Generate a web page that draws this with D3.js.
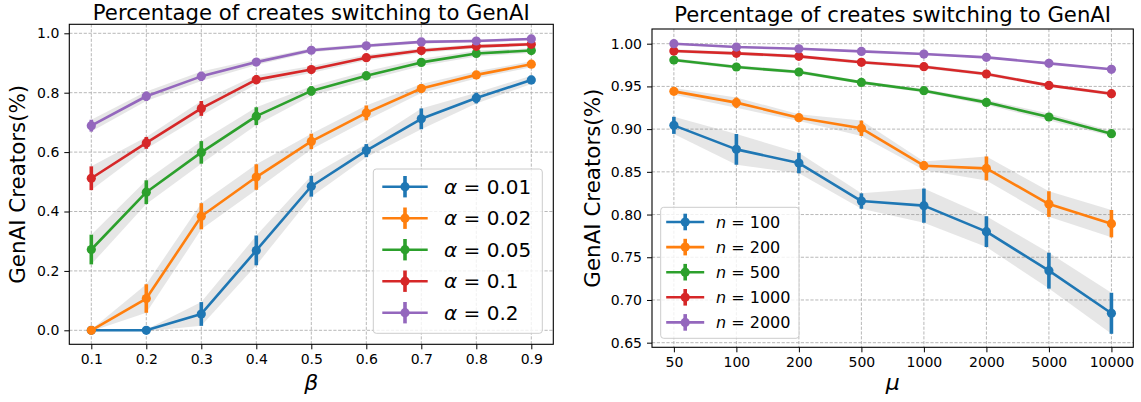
<!DOCTYPE html>
<html><head><meta charset="utf-8">
<script src="https://cdn.jsdelivr.net/npm/d3@7"></script>
<style>
html,body{margin:0;padding:0;background:#fff;}
svg{display:block;font-family:"DejaVu Sans",sans-serif;}
</style></head>
<body>
<svg id="chart" width="1141" height="402"></svg>
<script>
// ---------- data ----------
const colors = ["#1f77b4","#ff7f0e","#2ca02c","#d62728","#9467bd"];

// left panel
const betaValues = [0.1,0.2,0.3,0.4,0.5,0.6,0.7,0.8,0.9];
const betaTickLabels = ["0.1","0.2","0.3","0.4","0.5","0.6","0.7","0.8","0.9"];
const leftYTicks = [0.0,0.2,0.4,0.6,0.8,1.0];
const alphaLabels = ["0.01","0.02","0.05","0.1","0.2"];
const alpha001 = [0.000,0.000,0.055,0.269,0.485,0.605,0.712,0.782,0.843];
const alpha001Err = [0.003,0.003,0.040,0.050,0.035,0.022,0.035,0.018,0.014];
const alpha002 = [0.000,0.107,0.384,0.516,0.636,0.732,0.814,0.860,0.896];
const alpha002Err = [0.003,0.048,0.044,0.043,0.026,0.025,0.015,0.012,0.010];
const alpha005 = [0.272,0.465,0.599,0.721,0.806,0.857,0.902,0.932,0.942];
const alpha005Err = [0.050,0.040,0.038,0.030,0.016,0.015,0.012,0.010,0.008];
const alpha01 = [0.512,0.631,0.747,0.844,0.878,0.918,0.942,0.956,0.963];
const alpha01Err = [0.040,0.020,0.025,0.015,0.012,0.010,0.008,0.007,0.006];
const alpha02 = [0.689,0.788,0.855,0.903,0.943,0.958,0.971,0.974,0.981];
const alpha02Err = [0.020,0.016,0.016,0.010,0.007,0.006,0.005,0.005,0.004];

// right panel
const muLabels = ["50","100","200","500","1000","2000","5000","10000"];
const rightYTicks = [0.65,0.70,0.75,0.80,0.85,0.90,0.95,1.00];
const nLabels = ["100","200","500","1000","2000"];
const n100 = [0.9044,0.8763,0.8603,0.8158,0.8104,0.7800,0.7343,0.6844];
const n100Err = [0.010,0.018,0.012,0.009,0.020,0.018,0.021,0.024];
const n200 = [0.9442,0.9310,0.9134,0.9010,0.8572,0.8540,0.8123,0.7893];
const n200Err = [0.004,0.006,0.004,0.009,0.005,0.014,0.015,0.016];
const n500 = [0.9809,0.9727,0.9668,0.9547,0.9450,0.9313,0.9142,0.8947];
const n500Err = [0.002,0.002,0.002,0.002,0.002,0.003,0.004,0.003];
const n1000 = [0.9914,0.9887,0.9852,0.9782,0.9731,0.9645,0.9512,0.9415];
const n1000Err = [0.002,0.002,0.002,0.002,0.002,0.002,0.002,0.002];
const n2000 = [1.0000,0.9961,0.9941,0.9910,0.9879,0.9840,0.9770,0.9700];
const n2000Err = [0.001,0.001,0.001,0.001,0.001,0.001,0.001,0.001];

const title = "Percentage of creates switching to GenAI";
const yLabel = "GenAI Creators(%)";

// ---------- drawing ----------
const svg = d3.select("#chart");

function panel(opts){
  const {x0,x1,y0,y1,xScale,yScale,xTicks,xTickFmt,yTicks,yTickFmt,series,xs,xLabel,legend,titleY,yLabelX} = opts;
  const g = svg.append("g");
  // grid
  const grid = g.append("g").attr("stroke","#b0b0b0").attr("stroke-width",0.9).attr("stroke-dasharray","3.2,1.6");
  xTicks.forEach(t=>grid.append("line").attr("x1",xScale(t)).attr("x2",xScale(t)).attr("y1",y0).attr("y2",y1));
  yTicks.forEach(t=>grid.append("line").attr("x1",x0).attr("x2",x1).attr("y1",yScale(t)).attr("y2",yScale(t)));
  // bands
  const area = d3.area().x((d,i)=>xScale(xs[i])).y0(d=>yScale(d.v-d.e)).y1(d=>yScale(d.v+d.e));
  series.forEach(s=>{
    const data = s.v.map((v,i)=>({v,e:s.e[i]}));
    g.append("path").attr("d",area(data)).attr("fill","#808080").attr("fill-opacity",0.2).attr("stroke","none");
  });
  // lines, errorbars, markers
  const line = d3.line().x((d,i)=>xScale(xs[i])).y(d=>yScale(d.v));
  series.forEach((s,k)=>{
    const data = s.v.map((v,i)=>({v,e:s.e[i]}));
    const sg = g.append("g");
    sg.append("path").attr("d",line(data)).attr("fill","none").attr("stroke",colors[k]).attr("stroke-width",2.6).attr("stroke-linejoin","round");
    sg.selectAll("line.eb").data(data).enter().append("line")
      .attr("x1",(d,i)=>xScale(xs[i])).attr("x2",(d,i)=>xScale(xs[i]))
      .attr("y1",d=>yScale(d.v-d.e)).attr("y2",d=>yScale(d.v+d.e))
      .attr("stroke",colors[k]).attr("stroke-width",3.6);
    sg.selectAll("circle").data(data).enter().append("circle")
      .attr("cx",(d,i)=>xScale(xs[i])).attr("cy",d=>yScale(d.v)).attr("r",4.6).attr("fill",colors[k]);
  });
  // spines
  g.append("rect").attr("x",x0).attr("y",y0).attr("width",x1-x0).attr("height",y1-y0)
    .attr("fill","none").attr("stroke","#000").attr("stroke-width",1.1);
  // x ticks
  const xa = g.append("g").attr("transform",`translate(0,${y1})`)
    .call(d3.axisBottom(xScale).tickValues(xTicks).tickFormat(xTickFmt).tickSize(5).tickPadding(5));
  xa.select(".domain").remove();
  xa.selectAll("text").attr("font-size",14).attr("font-family","DejaVu Sans").attr("fill","#000");
  xa.selectAll("line").attr("stroke","#000").attr("stroke-width",1);
  const ya = g.append("g").attr("transform",`translate(${x0},0)`)
    .call(d3.axisLeft(yScale).tickValues(yTicks).tickFormat(yTickFmt).tickSize(5).tickPadding(5));
  ya.select(".domain").remove();
  ya.selectAll("text").attr("font-size",14).attr("font-family","DejaVu Sans").attr("fill","#000");
  ya.selectAll("line").attr("stroke","#000").attr("stroke-width",1);
  // title
  g.append("text").attr("x",(x0+x1)/2).attr("y",titleY).attr("text-anchor","middle")
    .attr("font-size",21.2).text(title);
  // y label
  g.append("text").attr("transform",`translate(${yLabelX},${(y0+y1)/2}) rotate(-90)`)
    .attr("text-anchor","middle").attr("font-size",21.4).text(yLabel);
  // x label
  g.append("text").attr("x",(x0+x1)/2).attr("y",390).attr("text-anchor","middle")
    .attr("font-size",22).attr("font-style","italic").text(xLabel);
  // legend
  const L = legend;
  const lg = g.append("g");
  lg.append("rect").attr("x",L.x).attr("y",L.y).attr("width",L.w).attr("height",L.h).attr("rx",3)
    .attr("fill","#fff").attr("fill-opacity",0.8).attr("stroke","#cccccc").attr("stroke-width",1);
  L.labels.forEach((lab,k)=>{
    const cy = L.y + L.first + k*L.step;
    lg.append("line").attr("x1",L.x+L.h0).attr("x2",L.x+L.h1).attr("y1",cy).attr("y2",cy)
      .attr("stroke",colors[k]).attr("stroke-width",2.6);
    const mx = L.x+(L.h0+L.h1)/2;
    lg.append("line").attr("x1",mx).attr("x2",mx).attr("y1",cy-L.eb).attr("y2",cy+L.eb)
      .attr("stroke",colors[k]).attr("stroke-width",3.6);
    lg.append("circle").attr("cx",mx).attr("cy",cy).attr("r",4.6).attr("fill",colors[k]);
    const t = lg.append("text").attr("x",L.x+L.tx).attr("y",cy+L.fs*0.36).attr("font-size",L.fs);
    t.append("tspan").attr("font-style","italic").text(L.sym);
    t.append("tspan").text(" = "+lab);
  });
}

// Left panel
const lx0=69.3,lx1=553.3,ly0=24.3,ly1=344.3;
const lxs = d3.scaleLinear().domain([0.06,0.94]).range([lx0,lx1]);
const lys = d3.scaleLinear().domain([-0.0471,1.0303]).range([ly1,ly0]);
panel({x0:lx0,x1:lx1,y0:ly0,y1:ly1,xScale:lxs,yScale:lys,
  xTicks:betaValues,xTickFmt:(d,i)=>betaTickLabels[i],
  yTicks:leftYTicks,yTickFmt:d=>d.toFixed(1),
  xs:betaValues,
  series:[{v:alpha001,e:alpha001Err},{v:alpha002,e:alpha002Err},{v:alpha005,e:alpha005Err},{v:alpha01,e:alpha01Err},{v:alpha02,e:alpha02Err}],
  xLabel:"β",titleY:20,yLabelX:25,
  legend:{x:373.3,y:169,w:169,h:164.3,first:17.7,step:31.5,h0:9,h1:54.4,eb:10.7,tx:70.7,fs:20,sym:"α",labels:alphaLabels}
});

// Right panel
const rx0=652,rx1=1133.3,ry0=29,ry1=347.3;
const muIdx = muLabels.map((d,i)=>i);
const rxs = d3.scaleLinear().domain([-0.35,7.35]).range([rx0,rx1]);
const rys = d3.scaleLinear().domain([0.6446,1.0172]).range([ry1,ry0]);
panel({x0:rx0,x1:rx1,y0:ry0,y1:ry1,xScale:rxs,yScale:rys,
  xTicks:muIdx,xTickFmt:(d,i)=>muLabels[i],
  yTicks:rightYTicks,yTickFmt:d=>d.toFixed(2),
  xs:muIdx,
  series:[{v:n100,e:n100Err},{v:n200,e:n200Err},{v:n500,e:n500Err},{v:n1000,e:n1000Err},{v:n2000,e:n2000Err}],
  xLabel:"μ",titleY:21.5,yLabelX:600,
  legend:{x:660.7,y:207.3,w:138.3,h:131,first:14.7,step:25.1,h0:5.5,h1:43.5,eb:8.3,tx:55.3,fs:16,sym:"n",labels:nLabels}
});
</script>
</body></html>
